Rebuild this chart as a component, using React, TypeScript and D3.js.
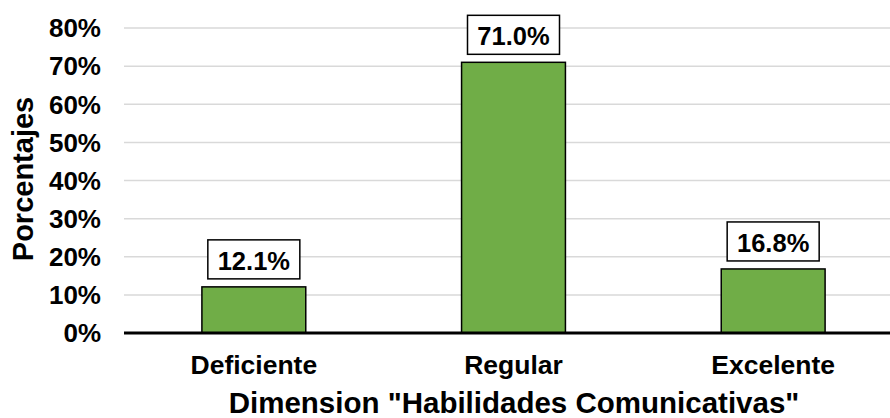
import React, { useRef, useEffect } from "react";
import * as d3 from "d3";

const WIDTH = 890;
const HEIGHT = 418;
const MARGIN = { top: 28, right: -13, bottom: 85, left: 124 };

const categories = ["Deficiente", "Regular", "Excelente"];
const values = [12.1, 71.0, 16.8];
const yTicks = [0, 10, 20, 30, 40, 50, 60, 70, 80];

const BAR_COLOR = "#70AD47";
const FONT = "'Liberation Sans', Arial, sans-serif";

export default function App() {
  const svgRef = useRef<SVGSVGElement>(null);

  useEffect(() => {
    const svg = d3.select(svgRef.current);
    svg.selectAll("*").remove();

    const innerWidth = WIDTH - MARGIN.left - MARGIN.right;
    const innerHeight = HEIGHT - MARGIN.top - MARGIN.bottom;

    const g = svg
      .append("g")
      .attr("transform", `translate(${MARGIN.left},${MARGIN.top})`);

    const x = d3
      .scaleBand()
      .domain(categories)
      .range([0, innerWidth])
      .paddingInner(0.6)
      .paddingOuter(0.3);

    const y = d3.scaleLinear().domain([0, 80]).range([innerHeight, 0]);

    // gridlines
    g.selectAll(".grid")
      .data(yTicks.filter((t) => t > 0))
      .join("line")
      .attr("x1", 0)
      .attr("x2", innerWidth)
      .attr("y1", (d) => y(d))
      .attr("y2", (d) => y(d))
      .attr("stroke", "#d9d9d9")
      .attr("stroke-width", 1.5);

    // y tick labels
    g.selectAll(".ytick")
      .data(yTicks)
      .join("text")
      .attr("x", -23)
      .attr("y", (d) => y(d))
      .attr("dy", "0.36em")
      .attr("text-anchor", "end")
      .attr("font-family", FONT)
      .attr("font-weight", "bold")
      .attr("font-size", 26)
      .attr("fill", "#000")
      .text((d) => `${d}%`);

    // bars
    g.selectAll(".bar")
      .data(values)
      .join("rect")
      .attr("x", (_, i) => x(categories[i])!)
      .attr("y", (d) => y(d))
      .attr("width", x.bandwidth())
      .attr("height", (d) => innerHeight - y(d))
      .attr("fill", BAR_COLOR)
      .attr("stroke", "#000")
      .attr("stroke-width", 1.5);

    // x axis line
    g.append("line")
      .attr("x1", 0)
      .attr("x2", innerWidth)
      .attr("y1", innerHeight)
      .attr("y2", innerHeight)
      .attr("stroke", "#000")
      .attr("stroke-width", 3);

    // value labels in boxes
    const boxW = 92;
    const boxH = 39;
    const labels = g
      .selectAll(".lbl")
      .data(values)
      .join("g")
      .attr(
        "transform",
        (d, i) =>
          `translate(${x(categories[i])! + x.bandwidth() / 2},${y(d) - 8 - boxH})`
      );
    labels
      .append("rect")
      .attr("x", -boxW / 2)
      .attr("y", 0)
      .attr("width", boxW)
      .attr("height", boxH)
      .attr("fill", "#fff")
      .attr("stroke", "#000")
      .attr("stroke-width", 1.5);
    labels
      .append("text")
      .attr("x", 0)
      .attr("y", 30)
      .attr("text-anchor", "middle")
      .attr("font-family", FONT)
      .attr("font-weight", "bold")
      .attr("font-size", 25.5)
      .attr("fill", "#000")
      .text((d) => `${d.toFixed(1)}%`);

    // category labels
    g.selectAll(".cat")
      .data(categories)
      .join("text")
      .attr("x", (d) => x(d)! + x.bandwidth() / 2)
      .attr("y", innerHeight + 41)
      .attr("text-anchor", "middle")
      .attr("font-family", FONT)
      .attr("font-weight", "bold")
      .attr("font-size", 26.5)
      .attr("fill", "#000")
      .text((d) => d);

    // axis titles
    svg
      .append("text")
      .attr("x", 514)
      .attr("y", 413)
      .attr("text-anchor", "middle")
      .attr("font-family", FONT)
      .attr("font-weight", "bold")
      .attr("font-size", 29.5)
      .attr("fill", "#000")
      .text('Dimension "Habilidades Comunicativas"');

    svg
      .append("text")
      .attr("transform", "translate(33,179) rotate(-90)")
      .attr("text-anchor", "middle")
      .attr("font-family", FONT)
      .attr("font-weight", "bold")
      .attr("font-size", 29)
      .attr("fill", "#000")
      .text("Porcentajes");
  }, []);

  return (
    <div style={{ position: "absolute", left: 0, top: 0 }}>
      <svg ref={svgRef} width={WIDTH} height={HEIGHT} style={{ display: "block" }} />
    </div>
  );
}
